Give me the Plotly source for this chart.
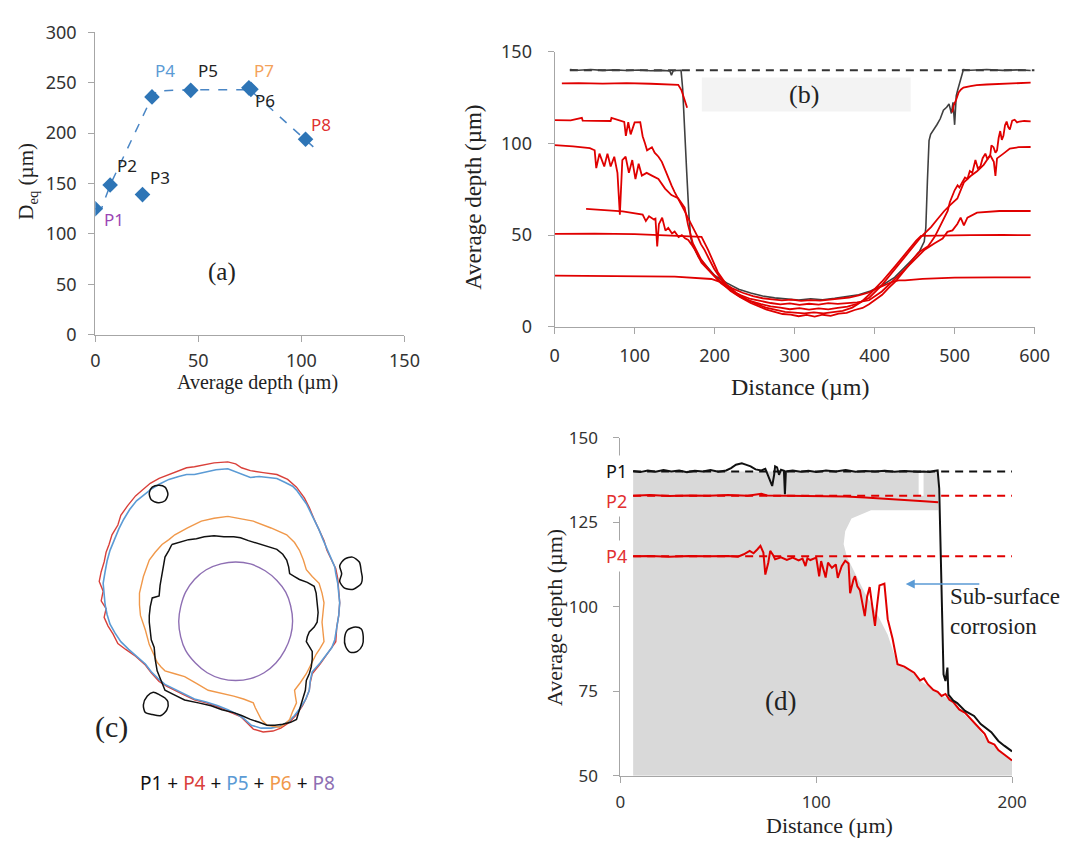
import plotly.graph_objects as go

W, H = 1083, 847

# ---------------- (a) data ----------------
a_labels = ["P1", "P2", "P3", "P4", "P5", "P6", "P7", "P8"]
a_depth = [0, 7.2, 22.9, 27.5, 46.3, 75.5, 74.5, 102]
a_deq = [125, 148.5, 139, 236, 242.5, 243.5, 245, 194]
a_trend_depth = [0, 3, 7.2, 27.5, 30, 46.3, 75, 102, 106.5]
a_trend_deq = [125, 125, 148.5, 236, 242, 243, 243, 194, 185]
a_label_x = [9.1, 15.3, 31.5, 33.9, 54.5, 82.2, 81.7, 109.4]
a_label_y = [113.8, 167.8, 156.3, 262.4, 262.4, 232.5, 262.4, 208.4]
a_label_colors = ["#9b45b5", "#222222", "#222222", "#5b9bd5", "#222222", "#222222", "#f4a25a", "#e03030"]
a_ticks_x = [0, 50, 100, 150]
a_ticks_y = [0, 50, 100, 150, 200, 250, 300]

# ---------------- (b) data: (distance, depth) ----------------
b_p1_ref = [(19, 140), (600, 140)]
b_p1 = [(19, 140.3), (30, 140.0), (45, 140.4), (60, 139.9), (75, 140.2), (90, 139.8), (105, 140.1),
        (120, 139.7), (135, 139.9), (144, 139.6), (146, 137.3), (148, 139.5), (150, 139.8), (155, 139.7),
        (158, 139.9), (160, 130), (162, 110), (165, 85), (168, 60), (170, 49), (172, 45), (180, 38),
        (190, 33), (200, 28), (215, 24), (230, 20.5), (245, 18.5), (260, 16.8), (275, 15.8), (290, 15.2),
        (305, 14.6), (320, 15.3), (335, 14.8), (350, 15.6), (365, 16.4), (380, 17.5), (395, 19.6),
        (410, 22.8), (425, 27.0), (440, 33.4), (455, 40.2), (462, 46.5), (464, 54.2), (466, 80),
        (468, 101.6), (470, 105), (474, 107.5), (478, 110.4), (482, 113.5), (486, 118.2), (490, 119.8),
        (493, 121.6), (496, 116.4), (498, 122.5), (500, 110.2), (502, 126), (504, 129.5), (507, 134.7),
        (511, 140.3), (520, 140.0), (540, 140.4), (560, 139.9), (580, 140.2), (595, 139.8)]
b_p2 = [(9, 132.8), (30, 133.0), (60, 132.7), (90, 132.9), (120, 132.6), (150, 132.4), (154.5, 132.0),
        (158.6, 129), (162.7, 123.9), (165.6, 119.5), (None, None), (497, 117), (499, 121), (502, 124),
        (505, 127.9), (508, 129.5), (511, 130.5), (520, 131.3), (527.5, 131.8), (540, 132.2),
        (556, 132.5), (575, 132.9), (595, 133.2)]
b_p4 = [(0, 112.8), (20, 112.6), (34, 114), (35, 112.5), (50, 112.4), (70, 112.3), (71, 114),
        (87, 111.8), (89, 104.2), (92, 111.6), (95, 105), (100, 111.5), (107, 111.7), (110, 104),
        (113, 100), (115.5, 96.3), (121.6, 98), (125, 95), (129.8, 92.8), (134, 90), (138, 85.8),
        (142, 81), (146.2, 77), (150, 73.5), (154.5, 70), (158, 66.5), (162.7, 63), (166, 60),
        (170.9, 56), (175, 52), (179, 49), (183, 45), (187.3, 42), (193, 37), (199.5, 31.6),
        (207.7, 26.3), (215, 22), (225, 18.5), (235, 15.5), (245, 13), (255, 11.2), (265, 9.4),
        (275, 8.2), (285, 7.0), (295, 6.7), (305, 5.8), (315, 6.5), (325, 5.6), (335, 6.6), (345, 6.0),
        (355, 7.2), (365, 7.6), (375, 9.2), (385, 10.3), (393, 12.3), (401, 14.8), (409.4, 17.5),
        (417, 21), (425.8, 24.6), (434, 29), (442.2, 33.3), (448, 37), (454.5, 40.4), (460, 42),
        (466.8, 43.9), (471, 46.5), (475, 49.1), (479, 52.5), (483.2, 56.1), (487, 59.5), (491.3, 63.2),
        (494, 68), (497.5, 72), (500, 74.5), (503.7, 77.2), (506, 76), (509.8, 79), (513, 81.5),
        (516, 80.7), (519, 85), (522, 84), (524, 88), (526, 91), (529, 86.5), (532.2, 87.5), (535, 92),
        (538.4, 94.5), (541, 91.5), (544.5, 93.6), (546, 99), (548.6, 98), (551, 95), (553, 96.3),
        (555, 103), (557, 106.8), (559, 102), (561, 104.2), (563, 110), (565, 112), (567, 109),
        (569, 107.7), (572, 112.5), (575, 113), (578, 111.5), (581, 112), (587, 112.3), (595, 112.1)]
b_p5 = [(0, 99.1), (23, 98.5), (44, 97.5), (50, 96.3), (52, 86.6), (56, 94.5), (62, 87.5), (66, 94.5),
        (70, 87.5), (74.5, 92.8), (78.5, 84), (81.5, 61.2), (84.6, 91), (88.7, 92.8), (92.8, 84),
        (97, 91), (101, 80.6), (105, 89), (109, 82.5), (115, 84), (121.5, 82.5), (129.7, 80.7),
        (138, 75.4), (146, 71.9), (154.3, 70.2), (162.5, 65), (166.6, 56), (172.7, 45.6), (183, 36.8),
        (195.3, 29.8), (207.6, 24.6), (220, 19.5), (232, 16.2), (245, 14), (258, 12.4), (270, 11.2),
        (282, 10.5), (294, 9.6), (306, 10.2), (318, 9.4), (330, 10.1), (342, 9.5), (354, 10.3),
        (366, 11), (378, 12.6), (393, 15.8), (409, 22.8), (426, 31.6), (442, 40.4), (458, 49.1),
        (470.5, 54.4), (478.7, 58.8), (487, 63.2), (495, 66.7), (503.4, 70), (511.6, 78.8), (520, 82.3),
        (528, 84.9), (536.3, 88.4), (544.5, 93.6), (549, 90), (551, 82.3), (553, 91.9), (561, 94.5),
        (569, 97.2), (580, 98), (595, 98.1)]
b_p6 = [(39.3, 64.4), (60, 63.8), (85, 63), (110, 61.2), (114, 57.7), (118, 60.3), (124, 58.6),
        (126, 59), (128.2, 43.8), (130.3, 56), (134.4, 59.5), (138.5, 52.5), (142, 54), (146.7, 50.9),
        (150, 52), (154.9, 49), (159, 50), (163, 48.3), (167, 47.4), (171, 45), (175.4, 42),
        (183.6, 35), (195.9, 29), (208, 23.7), (220, 20), (232, 17.3), (245, 15.2), (258, 14),
        (270, 13), (282, 12.3), (294, 12.8), (306, 12), (318, 12.6), (330, 12.1), (342, 12.9),
        (354, 12.5), (366, 12.8), (378, 13.4), (393, 14.5), (409, 19.3), (430, 28), (446, 35),
        (462.6, 42.1), (475, 45.6), (485, 48.2), (491, 51.8), (497.3, 52.6), (503.4, 56.1),
        (507.5, 59.6), (511.6, 55.3), (516, 59.6), (528, 62.3), (556, 63.2), (595, 63.2)]
b_p7 = [(0, 50.7), (50, 50.9), (100, 50.6), (146.7, 49.8), (165, 49.5), (183.6, 49.1), (191.8, 42),
        (204, 29.8), (215, 23), (227, 18.5), (240, 15), (252, 12.5), (264, 10.5), (276, 9.2),
        (288, 8.2), (300, 7.8), (312, 7.4), (324, 7.9), (336, 7.3), (348, 8), (360, 8.7), (372, 10.5),
        (383, 13.5), (393, 17.5), (409, 24.6), (426, 33.3), (442, 42), (452, 47), (458, 49.6),
        (475, 49.8), (491, 49.6), (520, 50), (560, 50.1), (595, 50)]
b_p8 = [(0, 27.9), (50, 27.8), (100, 27.6), (150, 27.4), (195.9, 26.1), (210, 24), (222, 21),
        (235, 18.6), (248, 16.8), (260, 15.6), (272, 15), (284, 14.4), (296, 14.8), (308, 14.2),
        (320, 14.6), (332, 14.3), (344, 14.9), (356, 15.4), (368, 16), (380, 17.2), (392, 18.6),
        (401, 20.5), (412, 22.5), (422, 24.6), (430, 25.3), (438, 25.3), (460, 26.2), (500, 26.8),
        (550, 27), (595, 27)]
b_end_labels = ["P1", "P2", "P4", "P5", "P6", "P7", "P8"]
b_end_label_depth = [140.2, 131.4, 111.2, 97.2, 62.1, 49.3, 26.5]
b_ticks_x = [0, 100, 200, 300, 400, 500, 600]
b_ticks_y = [0, 50, 100, 150]

# ---------------- (c) data: pit contours (local units, origin at pit centre) ----------------
c_p1_main = [(-63, 80), (-55, 82), (-46, 85), (-38, 86), (-30, 88), (-20, 89), (-10, 88), (0, 88), (7, 87),
             (15, 84), (22, 82), (27, 80), (36, 78), (44, 75), (50, 70), (54, 64), (56, 57), (57, 50),
             (62, 47), (67, 44), (75, 41), (82, 37), (84, 30), (85, 20), (86, 10), (85, 0), (82, -5),
             (77, -10), (75, -15), (74, -20), (77, -25), (80, -30), (80, -38), (79, -46), (77, -53),
             (74, -60), (73, -70), (70, -80), (67, -90), (64, -100), (58, -103), (50, -105), (42, -106),
             (34, -106), (26, -103), (17, -100), (8, -96), (0, -93), (-12, -90), (-23, -86), (-36, -83),
             (-50, -80), (-60, -75), (-70, -70), (-74, -60), (-78, -50), (-80, -38), (-81, -26), (-84, -18),
             (-85, -10), (-86, 0), (-86, 7), (-85, 16), (-83, 25), (-76, 27), (-75, 38), (-73, 50),
             (-72, 58), (-70, 67), (-66, 74), (-63, 80)]
c_p1_blob1 = [(-67, 132), (-70, 139), (-76, 141), (-83, 139), (-86, 133), (-84, 126), (-77, 123), (-70, 125), (-67, 132)]
c_p1_blob2 = [(130, 52), (128, 62), (121, 67), (113, 65), (108, 58), (110, 50), (108, 42), (113, 35), (122, 34), (130, 40), (131, 46), (130, 52)]
c_p1_blob3 = [(132, -15), (130, -7), (124, -5), (116, -8), (113, -16), (114, -25), (119, -31), (126, -30), (131, -24), (132, -15)]
c_p1_blob4 = [(-67, -82), (-68, -90), (-74, -96), (-83, -95), (-90, -93), (-92, -85), (-88, -76), (-82, -72), (-75, -75), (-70, -78), (-67, -82)]
c_p4 = [(-40, 160), (-30, 162), (-20, 164), (-6, 165), (2, 163), (8, 159), (17, 156), (30, 154), (44, 152),
        (55, 147), (64, 139), (72, 128), (77, 118), (82, 106), (87, 95), (92, 84), (95, 74), (100, 64),
        (104, 55), (106, 45), (107, 34), (108, 20), (107, 7), (105, -5), (104, -20), (98, -28), (95, -33),
        (88, -43), (80, -53), (78, -62), (77, -70), (74, -78), (70, -86), (64, -95), (57, -103), (48, -109),
        (40, -112), (30, -113), (20, -110), (12, -102), (7, -97), (-5, -92), (-16, -87), (-28, -83),
        (-40, -80), (-50, -75), (-60, -70), (-68, -66), (-76, -61), (-84, -52), (-90, -44), (-100, -35),
        (-110, -28), (-118, -22), (-123, -12), (-128, -4), (-132, 5), (-130, 14), (-135, 22), (-133, 32),
        (-137, 42), (-135, 52), (-132, 62), (-130, 72), (-127, 80), (-124, 90), (-118, 100), (-115, 110),
        (-108, 120), (-100, 130), (-93, 136), (-85, 143), (-76, 148), (-66, 152), (-56, 156), (-48, 159),
        (-40, 160)]
c_p5 = [(-40, 152), (-30, 154), (-18, 157), (-6, 158), (4, 154), (12, 151), (17, 149), (26, 150), (35, 149),
        (44, 148), (52, 144), (60, 140), (64, 136), (70, 128), (74, 122), (77, 116), (82, 106), (87, 95),
        (91, 85), (95, 75), (99, 66), (103, 57), (104, 50), (106, 40), (107, 30), (108, 20), (107, 7),
        (105, -6), (103, -18), (100, -26), (95, -33), (88, -42), (80, -51), (78, -60), (77, -70), (73, -80),
        (68, -88), (62, -96), (56, -102), (47, -107), (38, -109), (28, -109), (18, -106), (10, -99),
        (4, -95), (-6, -90), (-16, -86), (-28, -82), (-40, -79), (-50, -74), (-60, -69), (-70, -64),
        (-77, -58), (-84, -51), (-90, -43), (-98, -36), (-107, -28), (-115, -20), (-121, -11), (-126, -2),
        (-129, 8), (-131, 18), (-132, 30), (-133, 40), (-131, 52), (-129, 63), (-126, 74), (-122, 84),
        (-117, 96), (-112, 106), (-106, 116), (-99, 125), (-92, 131), (-84, 137), (-76, 142), (-66, 147),
        (-56, 150), (-48, 152), (-40, 152)]
c_p6 = [(-6, 109), (5, 107), (20, 104), (38, 97), (54, 90), (62, 82), (67, 74), (71, 64), (74, 54),
        (80, 47), (87, 40), (90, 30), (92, 20), (91, 10), (90, 0), (91, -10), (92, -20), (88, -27),
        (84, -33), (79, -43), (74, -53), (68, -62), (62, -70), (63, -77), (64, -83), (60, -92), (57, -100),
        (52, -105), (47, -108), (40, -107), (34, -106), (28, -100), (24, -93), (22, -88), (20, -83),
        (10, -79), (0, -76), (-13, -73), (-26, -70), (-38, -63), (-50, -56), (-60, -53), (-70, -50),
        (-74, -46), (-78, -41), (-82, -32), (-86, -23), (-90, -8), (-95, 7), (-96, 18), (-96, 30),
        (-92, 47), (-86, 64), (-80, 72), (-73, 80), (-66, 85), (-60, 90), (-47, 97), (-33, 104),
        (-20, 107), (-6, 109)]
c_p8 = [(60, 1), (58, 17), (53, 31), (44, 43), (32, 53), (17, 60), (2, 62), (-13, 60), (-28, 54), (-40, 44),
        (-49, 31), (-54, 16), (-56, 1), (-54, -15), (-49, -29), (-39, -42), (-27, -52), (-13, -58), (2, -60),
        (17, -58), (31, -52), (43, -42), (52, -29), (58, -14), (60, 1)]

# ---------------- (d) data: (distance, depth) ----------------
d_metal = [(6.5, 50), (6.5, 140), (152.3, 140), (152.3, 132.8), (154.8, 132.8), (154.8, 140), (162.3, 140),
           (162.3, 128.5), (128, 128.5), (118, 126.1), (114.8, 122.3), (114, 118.5), (115.7, 114.7),
           (119.8, 109.9), (124.8, 104.1), (131.5, 97.4), (136.5, 91.7), (139.8, 85.9), (141.5, 83),
           (148, 81.1), (153, 78.2), (159.8, 75.4), (168, 72.5), (173, 69.6), (181.5, 64.9), (188, 60),
           (193, 57.6), (200, 54.5), (200, 50)]
d_p1_ref = [(6.5, 140), (200, 140)]
d_p2_ref = [(6.5, 132.8), (200, 132.8)]
d_p4_ref = [(6.5, 114.9), (200, 114.9)]
d_p1 = [(6.5, 140.1), (10, 139.8), (14, 140.3), (18, 139.9), (22, 140.4), (26, 140), (30, 140.3), (34, 139.8),
        (38, 140.2), (42, 140), (46, 140.4), (50, 139.9), (54, 140.3), (56.5, 141), (59, 142), (62, 142.4),
        (64, 142), (66.5, 141.5), (69, 140.6), (72, 140.3), (74, 140.8), (76.5, 137), (77.5, 135.7),
        (78.5, 139), (79, 141.5), (80, 141.2), (81, 139), (82, 140.5), (83.5, 140.2), (84, 133.3),
        (84.5, 140), (88, 140.3), (92, 139.9), (96, 140.2), (100, 139.8), (105, 140.3), (110, 140),
        (115, 140.4), (120, 139.9), (125, 140.1), (130, 140), (135, 140.2), (140, 139.9), (145, 140.1),
        (150, 139.8), (152, 139.9), (155, 140), (158, 139.8), (160, 140.1), (162, 140.3), (162.8, 135),
        (163.5, 115), (164.3, 95), (165, 80), (166, 78), (167, 82), (167.5, 74), (168.4, 73.4),
        (170, 72.2), (172, 71.5), (176, 69.2), (180.6, 67.7), (184, 65.3), (189.4, 62.9), (193, 60.3),
        (196, 58.9), (198.2, 58.1), (200, 57.2)]
d_p2 = [(6.5, 132.8), (15, 133), (25, 132.7), (35, 132.9), (45, 132.8), (55, 133), (65, 132.8),
        (72, 133.4), (75, 132.9), (85, 132.8), (95, 132.9), (105, 132.6), (115, 132.6), (125, 132.3),
        (135, 132), (145, 131.6), (155, 131.2), (162.3, 130.9)]
d_p4 = [(6.5, 114.9), (15, 115), (25, 114.8), (35, 115), (45, 114.9), (55, 115), (60, 114.8), (63, 115.5),
        (66, 116.5), (68, 115.8), (70, 117), (71.5, 118), (73, 116), (74, 109.5), (75.5, 113), (76.5, 116.5),
        (78, 115.2), (79, 114), (82, 114.6), (85, 113.8), (88, 114.5), (91, 113.7), (93, 114.2), (94.5, 112),
        (95.5, 114.3), (97, 113.8), (100, 114.5), (101.5, 109), (102.5, 113.5), (104.8, 108.6), (106, 113),
        (108, 111.5), (110, 112.5), (111, 108.5), (113, 112), (114.8, 113.6), (116.5, 112.8), (117.3, 104),
        (119, 108), (119.8, 109), (121, 106), (122.3, 104.9), (124.8, 97.2), (126, 103), (127.3, 105.8),
        (128.5, 100), (130, 94.3), (131, 100), (132.3, 106.3), (134.8, 106.8), (136.5, 96.3), (139, 90.5),
        (141.5, 83), (145, 82.3), (148, 81.1), (150, 80.5), (153, 78.2), (155, 78.8), (157, 77),
        (159.8, 75.4), (162, 74.8), (164, 73.6), (166, 74.2), (168, 72.5), (170, 71.8), (173, 69.6),
        (176, 68.6), (178, 67.3), (181.5, 64.9), (184, 63.6), (186, 62.4), (188, 60), (191, 59.2),
        (193, 57.6), (196, 56.3), (198, 55.4), (200, 54.5)]
d_labels = ["P1", "P2", "P4"]
d_label_depth = [140, 131.4, 115.1]
d_ticks_x = [0, 100, 200]
d_ticks_y = [50, 75, 100, 125, 150]


def xs(pairs):
    return [p[0] for p in pairs]


def ys(pairs):
    return [p[1] for p in pairs]


RED = "#e00000"
LABEL_RED = "#e23030"
SANS = "Noto Sans, Open Sans, sans-serif"
SERIF = "Liberation Serif, Times New Roman, serif"
AXC = "#a6a6a6"
TICKC = "#333333"

fig = go.Figure()

# ---------- (a) ----------
fig.add_trace(go.Scatter(x=a_trend_depth, y=a_trend_deq, mode="lines",
                         line=dict(color="#4a86c5", width=1.5, dash="dash"), xaxis="x", yaxis="y"))
fig.add_trace(go.Scatter(x=a_depth, y=a_deq, mode="markers",
                         marker=dict(symbol="diamond", size=12, color="#2e75b6"), xaxis="x", yaxis="y"))

# ---------- (b) ----------
fig.add_shape(type="rect", xref="x2", yref="y2", x0=184, x1=445, y0=117.5, y1=136,
              fillcolor="#f3f3f3", line=dict(width=0), layer="below")
fig.add_trace(go.Scatter(x=xs(b_p1_ref), y=ys(b_p1_ref), mode="lines",
                         line=dict(color="#333333", width=2, dash="8px,6px"), xaxis="x2", yaxis="y2"))
fig.add_trace(go.Scatter(x=xs(b_p1), y=ys(b_p1), mode="lines",
                         line=dict(color="#404040", width=1.6), xaxis="x2", yaxis="y2"))
for ser in [b_p8, b_p7, b_p6, b_p5, b_p4, b_p2]:
    fig.add_trace(go.Scatter(x=xs(ser), y=ys(ser), mode="lines", connectgaps=False,
                             line=dict(color=RED, width=1.8), xaxis="x2", yaxis="y2"))


# ---------- (c) ----------
def contour(pairs, color, width=1.4, smooth=False):
    line = dict(color=color, width=width, shape="spline" if smooth else "linear")
    if smooth:
        line["smoothing"] = 0.8
    fig.add_trace(go.Scatter(x=xs(pairs), y=ys(pairs), mode="lines", line=line,
                             xaxis="x3", yaxis="y3"))


contour(c_p4, "#d9403a", 1.4)
contour(c_p5, "#5b9bd5", 1.6)
contour(c_p6, "#f0984a", 1.4)
contour(c_p1_main, "#111111", 1.5)
for blob in [c_p1_blob1, c_p1_blob2, c_p1_blob3, c_p1_blob4]:
    contour(blob, "#111111", 1.5, smooth=True)
contour(c_p8, "#8e6fb3", 1.4, smooth=True)

# ---------- (d) ----------
fig.add_trace(go.Scatter(x=xs(d_metal), y=ys(d_metal), mode="lines", fill="toself",
                         fillcolor="#d9d9d9", line=dict(width=0, color="#d9d9d9"),
                         xaxis="x4", yaxis="y4"))
fig.add_trace(go.Scatter(x=xs(d_p1_ref), y=ys(d_p1_ref), mode="lines",
                         line=dict(color="#111111", width=2, dash="8px,6px"), xaxis="x4", yaxis="y4"))
for ref in [d_p2_ref, d_p4_ref]:
    fig.add_trace(go.Scatter(x=xs(ref), y=ys(ref), mode="lines",
                             line=dict(color=RED, width=2, dash="8px,6px"), xaxis="x4", yaxis="y4"))
fig.add_trace(go.Scatter(x=xs(d_p2), y=ys(d_p2), mode="lines",
                         line=dict(color=RED, width=2), xaxis="x4", yaxis="y4"))
fig.add_trace(go.Scatter(x=xs(d_p4), y=ys(d_p4), mode="lines",
                         line=dict(color=RED, width=2), xaxis="x4", yaxis="y4"))
fig.add_trace(go.Scatter(x=xs(d_p1), y=ys(d_p1), mode="lines",
                         line=dict(color="#111111", width=2), xaxis="x4", yaxis="y4"))


# ---------- axes ----------
def ax(domain, rng, ticks, anchor, fs=17, standoff=None):
    d = dict(domain=domain, range=rng, tickvals=ticks, ticktext=[str(t) for t in ticks],
             showgrid=False, zeroline=False, showline=True, linecolor=AXC, linewidth=1.2,
             ticks="outside", ticklen=6, tickcolor=AXC, tickwidth=1.2,
             tickfont=dict(family=SANS, size=fs, color=TICKC), anchor=anchor, fixedrange=True)
    if standoff is not None:
        d["ticklabelstandoff"] = standoff
    return d


def ydom(top, bottom):
    return [(H - bottom) / H, (H - top) / H]


fig.update_layout(
    width=W, height=H, margin=dict(l=0, r=0, t=0, b=0),
    paper_bgcolor="white", plot_bgcolor="white", showlegend=False,
    xaxis=ax([92 / W, 407 / W], [0, 150], a_ticks_x, "y", 18, 4),
    yaxis=ax(ydom(20, 331), [0, 300], a_ticks_y, "x", 18, 8),
    xaxis2=ax([560 / W, 1049 / W], [0, 600], b_ticks_x, "y2", 18, 6),
    yaxis2=ax(ydom(40, 323), [0, 150], b_ticks_y, "x2", 18, 12),
    xaxis3=dict(domain=[40 / W, 400 / W], range=[-193, 167], visible=False, anchor="y3"),
    yaxis3=dict(domain=ydom(440, 800), range=[-173, 187], visible=False, anchor="x3"),
    xaxis4=ax([627 / W, 1026 / W], [0, 200], d_ticks_x, "y4", 17, 5),
    yaxis4=ax(ydom(437, 785), [50, 150], d_ticks_y, "x4", 17, 12),
)

ann = []


def note(**kw):
    kw.setdefault("showarrow", False)
    kw.setdefault("xanchor", "center")
    kw.setdefault("yanchor", "middle")
    ann.append(kw)


# (a) point labels
for lab, x, y, c in zip(a_labels, a_label_x, a_label_y, a_label_colors):
    note(x=x, y=y, xref="x", yref="y", text=lab, font=dict(family=SANS, size=17, color=c))
note(x=61.6, y=61.7, xref="x", yref="y", text="(a)", font=dict(family=SERIF, size=25, color="#222"))
note(x=257 / W, y=(H - 380) / H, xref="paper", yref="paper", text="Average depth (µm)",
     font=dict(family=SERIF, size=20, color="#222"))
note(x=23 / W, y=(H - 173) / H, xref="paper", yref="paper", text="D<sub>eq</sub> (µm)",
     textangle=-90, font=dict(family=SERIF, size=21, color="#222"))

# (b)
for lab, y in zip(b_end_labels, b_end_label_depth):
    note(x=611, y=y, xref="x2", yref="y2", text=lab, xanchor="left",
         font=dict(family=SANS, size=19, color="#222" if lab == "P1" else LABEL_RED))
note(x=312, y=126.5, xref="x2", yref="y2", text="(b)", font=dict(family=SERIF, size=26, color="#222"))
note(x=477 / W, y=(H - 190) / H, xref="paper", yref="paper", text="Average depth (µm)",
     textangle=-90, font=dict(family=SERIF, size=23, color="#222"))
note(x=810 / W, y=(H - 385) / H, xref="paper", yref="paper", text="Distance (µm)",
     font=dict(family=SERIF, size=24, color="#222"))

# (c)
note(x=-125, y=-108, xref="x3", yref="y3", text="(c)", font=dict(family=SERIF, size=30, color="#222"))
note(x=237 / W, y=(H - 792) / H, xref="paper", yref="paper",
     text=("<span style='color:#111'>P1</span> + <span style='color:#d9403a'>P4</span> + "
           "<span style='color:#5b9bd5'>P5</span> + <span style='color:#f0984a'>P6</span> + "
           "<span style='color:#8e6fb3'>P8</span>"),
     font=dict(family=SANS, size=19, color="#111"))

# (d)
for lab, y in zip(d_labels, d_label_depth):
    note(x=5.5, y=y, xref="x4", yref="y4", text=lab, xanchor="right", bgcolor="white", borderpad=3,
         font=dict(family=SANS, size=18, color="#111" if lab == "P1" else LABEL_RED))
note(x=82, y=72, xref="x4", yref="y4", text="(d)", font=dict(family=SERIF, size=27, color="#222"))
note(x=145.7, y=106.7, xref="x4", yref="y4", ax=184.8, ay=106.7, axref="x4", ayref="y4",
     text=" ", showarrow=True, arrowhead=2, arrowsize=1.2, arrowwidth=1.5, arrowcolor="#5b9bd5")
note(x=167.5, y=98.5, xref="x4", yref="y4", text="Sub-surface<br>corrosion", xanchor="left", align="left",
     font=dict(family=SERIF, size=23, color="#222"))
note(x=560 / W, y=(H - 622) / H, xref="paper", yref="paper", text="Average depth (µm)",
     textangle=-90, font=dict(family=SERIF, size=22, color="#222"))
note(x=840 / W, y=(H - 836) / H, xref="paper", yref="paper", text="Distance (µm)",
     font=dict(family=SERIF, size=22, color="#222"))

fig.update_layout(annotations=ann)
fig.write_html("out.html")
